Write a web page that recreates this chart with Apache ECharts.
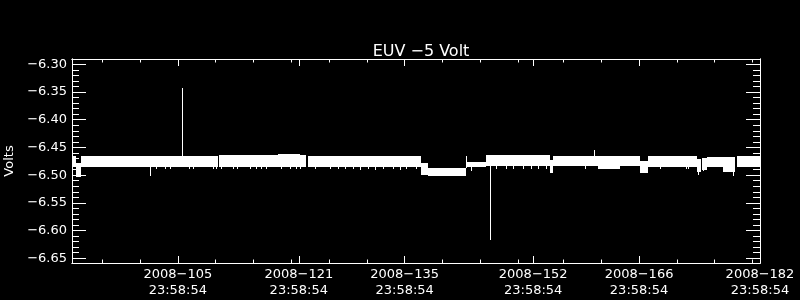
<!DOCTYPE html>
<html>
<head>
<meta charset="utf-8">
<script src="https://cdn.jsdelivr.net/npm/echarts@6/dist/echarts.min.js"></script>
<style>html,body{margin:0;padding:0;background:#000;}#c{width:800px;height:300px;}</style>
</head>
<body>
<div id="c"></div>
<script>
// ---- data (x = day of year 2008, at 23:58:54) ----
const titleText = 'EUV \u22125 Volt';
const yName = 'Volts';
const xMin = 91, xMax = 182;
const yMin = -6.6585, yMax = -6.2904;
const xTickDays = [105, 121, 135, 152, 166, 182];
const xMinorDays = [95, 100, 110, 115, 120, 125, 130, 140, 145, 150, 156, 161, 171, 176, 181];
const yTicks = [-6.30, -6.35, -6.40, -6.45, -6.50, -6.55, -6.60, -6.65];
const yMinorTicks = [-6.31, -6.32, -6.33, -6.34, -6.36, -6.37, -6.38, -6.39, -6.41, -6.42, -6.43, -6.44,
  -6.46, -6.47, -6.48, -6.49, -6.51, -6.52, -6.53, -6.54, -6.56, -6.57, -6.58, -6.59, -6.61, -6.62, -6.63, -6.64];

// dense signal envelope, as blocks: start day, end day, top value, bottom value
const blockStart  = [91.00, 91.595, 92.25, 110.40, 118.2, 121.1, 122.18, 137.19, 138.05, 143.21, 145.79, 154.18, 154.65, 160.53, 163.44, 166.09, 167.15, 173.63, 174.36, 174.95, 177.07, 178.92];
const blockEnd    = [91.595, 92.25, 110.25, 118.2, 121.1, 121.98, 137.19, 138.05, 143.14, 145.79, 154.18, 154.65, 160.53, 163.44, 166.09, 167.15, 173.63, 174.22, 174.95, 177.07, 178.75, 182.00];
const blockTop    = [-6.465, -6.478, -6.465, -6.4636, -6.4615, -6.4636, -6.4654, -6.4786, -6.487, -6.476, -6.4636, -6.4727, -6.4648, -6.4648, -6.4648, -6.474, -6.4654, -6.470, -6.469, -6.4667, -6.4667, -6.4654];
const blockBottom = [-6.486, -6.503, -6.4845, -6.4845, -6.4845, -6.4845, -6.4845, -6.4997, -6.502, -6.4845, -6.4835, -6.4956, -6.4835, -6.4894, -6.4835, -6.4956, -6.4847, -6.494, -6.490, -6.4858, -6.4937, -6.4858];

// single-sample excursions: day, from value, to value
const spikeDay  = [101.29, 105.51, 143.17, 146.25, 160.04,
  102.16, 103.26, 103.92, 106.48, 107.00, 109.65, 110.10, 110.76, 112.30, 112.82, 114.50, 115.30, 116.05, 116.71, 118.70, 119.80, 120.68, 121.12, 123.10, 125.08, 126.18, 127.07,
  128.17, 129.05, 130.15, 131.04, 132.14, 133.46, 134.35, 135.23, 136.55, 143.83,
  147.13, 148.46, 149.33, 150.65, 151.76, 152.64, 153.75,
  158.81, 168.73, 172.27, 172.48, 173.80, 174.46, 177.56, 178.43];
const spikeFrom = [-6.484, -6.465, -6.487, -6.4835, -6.4648,
  -6.484, -6.484, -6.484, -6.484, -6.484, -6.484, -6.484, -6.484, -6.484, -6.484, -6.484, -6.484, -6.484, -6.484, -6.484, -6.484, -6.484, -6.484, -6.484, -6.484, -6.484, -6.484,
  -6.484, -6.484, -6.484, -6.484, -6.484, -6.484, -6.484, -6.484, -6.484, -6.484,
  -6.483, -6.483, -6.483, -6.483, -6.483, -6.483, -6.483,
  -6.483, -6.484, -6.484, -6.484, -6.484, -6.484, -6.485, -6.485];
const spikeTo   = [-6.502, -6.343, -6.4654, -6.617, -6.4546,
  -6.489, -6.489, -6.488, -6.489, -6.488, -6.489, -6.489, -6.488, -6.489, -6.488, -6.488, -6.489, -6.489, -6.488, -6.488, -6.489, -6.488, -6.488, -6.489, -6.489, -6.488, -6.488,
  -6.489, -6.490, -6.489, -6.490, -6.489, -6.489, -6.490, -6.489, -6.489, -6.493,
  -6.489, -6.489, -6.489, -6.489, -6.489, -6.489, -6.489,
  -6.489, -6.489, -6.489, -6.489, -6.499, -6.493, -6.493, -6.501];

// ---- chart ----
const FONT = 'DejaVu Sans';
const WHITE = '#ffffff';
const blockData = blockStart.map((s, i) => [s, blockEnd[i], blockTop[i], blockBottom[i]]);
const spikeData = spikeDay.map((d, i) => [d, spikeFrom[i], spikeTo[i]]);

function xAxisCfg(pos, ticks, len, labels) {
  return {
    type: 'value', position: pos, min: xMin, max: xMax,
    axisLine: { show: true, onZero: false, lineStyle: { color: WHITE, width: 1 } },
    splitLine: { show: false },
    axisTick: { show: true, inside: true, length: len, customValues: ticks, lineStyle: { color: WHITE, width: 1 } },
    axisLabel: labels ? {
      show: true, customValues: ticks, color: WHITE, fontFamily: FONT, fontSize: 13, lineHeight: 16, margin: 4,
      formatter: v => '2008\u2212' + String(Math.round(v)).padStart(3, '0') + '\n23:58:54'
    } : { show: false }
  };
}
function yAxisCfg(pos, ticks, len, labels) {
  const c = {
    type: 'value', position: pos, min: yMin, max: yMax,
    axisLine: { show: true, onZero: false, lineStyle: { color: WHITE, width: 1 } },
    splitLine: { show: false },
    axisTick: { show: true, inside: true, length: len, customValues: ticks, lineStyle: { color: WHITE, width: 1 } },
    axisLabel: labels ? {
      show: true, customValues: ticks, color: WHITE, fontFamily: FONT, fontSize: 13, margin: 5,
      formatter: v => v.toFixed(2).replace('-', '\u2212')
    } : { show: false }
  };
  if (labels) {
    c.name = yName; c.nameLocation = 'middle'; c.nameGap = 50; c.nameRotate = 90;
    c.nameTextStyle = { color: WHITE, fontFamily: FONT, fontSize: 13 };
  }
  return c;
}

const chart = echarts.init(document.getElementById('c'), null, { renderer: 'canvas' });
chart.setOption({
  backgroundColor: '#000000',
  animation: false,
  title: {
    text: titleText, left: 416, top: 39, textAlign: 'center',
    textStyle: { color: WHITE, fontFamily: FONT, fontSize: 16, fontWeight: 'normal' }
  },
  grid: { left: 72, right: 40, top: 59, bottom: 37, containLabel: false, outerBoundsMode: 'none' },
  xAxis: [
    xAxisCfg('bottom', xTickDays, 7, true),
    xAxisCfg('bottom', xMinorDays, 3.5, false),
    xAxisCfg('top', xTickDays, 7, false),
    xAxisCfg('top', xMinorDays, 3.5, false)
  ],
  yAxis: [
    yAxisCfg('left', yTicks, 14, true),
    yAxisCfg('left', yMinorTicks, 7, false),
    yAxisCfg('right', yTicks, 14, false),
    yAxisCfg('right', yMinorTicks, 7, false)
  ],
  series: [
    {
      type: 'custom', name: 'band', xAxisIndex: 0, yAxisIndex: 0, clip: true,
      encode: { x: [0, 1], y: [2, 3] },
      data: blockData,
      renderItem: function (params, api) {
        const a = api.coord([api.value(0), api.value(2)]);
        const b = api.coord([api.value(1), api.value(3)]);
        const x0 = Math.round(a[0]), x1 = Math.max(Math.round(b[0]), x0 + 1);
        const y0 = Math.round(a[1]), y1 = Math.round(b[1]);
        return { type: 'rect', shape: { x: x0, y: y0, width: x1 - x0, height: y1 - y0 }, style: { fill: WHITE } };
      }
    },
    {
      type: 'custom', name: 'spikes', xAxisIndex: 0, yAxisIndex: 0, clip: true,
      encode: { x: 0, y: [1, 2] },
      data: spikeData,
      renderItem: function (params, api) {
        const a = api.coord([api.value(0), api.value(1)]);
        const b = api.coord([api.value(0), api.value(2)]);
        const x = Math.round(a[0]) + 0.5;
        return { type: 'line', shape: { x1: x, y1: Math.round(a[1]), x2: x, y2: Math.round(b[1]) }, style: { stroke: WHITE, lineWidth: 1 } };
      }
    }
  ]
});
</script>
</body>
</html>
